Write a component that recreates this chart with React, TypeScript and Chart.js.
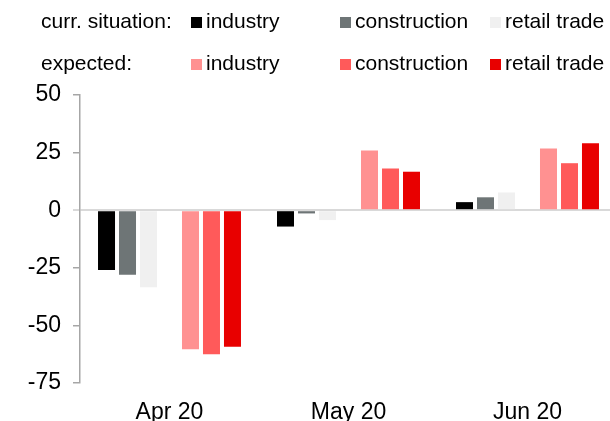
import React, { useEffect, useRef } from 'react';
import { Chart, registerables } from 'chart.js';

Chart.register(...registerables);

const categories = ['Apr 20', 'May 20', 'Jun 20'];
const currIndustry = [-26.0, -7.1, 3.5];
const currConstruction = [-28.0, -1.4, 5.6];
const currRetail = [-33.4, -4.3, 7.7];
const expIndustry = [-60.3, 25.9, 26.8];
const expConstruction = [-62.5, 18.1, 20.4];
const expRetail = [-59.3, 16.7, 29.1];
const gapSeries = [null, null, null];
const yTicks = [-75, -50, -25, 0, 25, 50];

const legendRowTitles = ['curr. situation:', 'expected:'];
const legendSeriesNames = ['industry', 'construction', 'retail trade'];
const currColors = ['#000000', '#6e7576', '#f0f0f0'];
const expColors = ['#ff9191', '#ff5a5a', '#e80000'];

const FONT = '"Liberation Sans", Arial, sans-serif';

const legendPlugin = {
  id: 'customLegend',
  afterDraw(chart: any) {
    const ctx = chart.ctx;
    ctx.save();
    ctx.font = `21px ${FONT}`;
    ctx.textBaseline = 'alphabetic';
    ctx.textAlign = 'left';
    const rows = [
      { title: legendRowTitles[0], colors: currColors, baseline: 28, boxTop: 17 },
      { title: legendRowTitles[1], colors: expColors, baseline: 70, boxTop: 59 },
    ];
    const boxX = [191, 340, 490];
    rows.forEach((row) => {
      ctx.fillStyle = '#000';
      ctx.fillText(row.title, 41, row.baseline);
      legendSeriesNames.forEach((name, i) => {
        ctx.fillStyle = row.colors[i];
        ctx.fillRect(boxX[i], row.boxTop, 11, 11);
        ctx.fillStyle = '#000';
        ctx.fillText(name, boxX[i] + 15, row.baseline);
      });
    });
    ctx.restore();
  },
};

export default function App() {
  const ref = useRef<HTMLCanvasElement | null>(null);

  useEffect(() => {
    if (!ref.current) return;
    const mk = (label: string, data: any[], color: string) => ({
      label,
      data,
      backgroundColor: color,
      borderWidth: 0,
      barPercentage: 0.81,
      categoryPercentage: 0.821,
    });
    const chart = new Chart(ref.current, {
      type: 'bar',
      data: {
        labels: categories,
        datasets: [
          mk('curr. industry', currIndustry, currColors[0]),
          mk('curr. construction', currConstruction, currColors[1]),
          mk('curr. retail trade', currRetail, currColors[2]),
          mk('', gapSeries, 'transparent'),
          mk('exp. industry', expIndustry, expColors[0]),
          mk('exp. construction', expConstruction, expColors[1]),
          mk('exp. retail trade', expRetail, expColors[2]),
        ],
      },
      options: {
        animation: false,
        responsive: false,
        maintainAspectRatio: false,
        layout: { padding: { top: 95, left: 0, right: 3, bottom: 0 } },
        plugins: {
          legend: { display: false },
          tooltip: { enabled: false },
        },
        scales: {
          x: {
            grid: { display: false, drawTicks: false, tickLength: 0 },
            border: { display: false },
            ticks: {
              color: '#000',
              font: { family: FONT, size: 23 },
              padding: 16,
              maxRotation: 0,
            },
            afterFit: (scale: any) => {
              scale.height = 38;
            },
          },
          y: {
            min: -75,
            max: 50,
            afterBuildTicks: (scale: any) => {
              scale.ticks = yTicks.map((v) => ({ value: v }));
            },
            afterFit: (scale: any) => {
              scale.width = 80;
            },
            border: { display: true, color: '#a6a6a6', width: 1.5 },
            grid: {
              drawOnChartArea: true,
              drawTicks: true,
              tickLength: 7,
              color: (c: any) => (c.tick && c.tick.value === 0 ? '#d9d9d9' : 'rgba(0,0,0,0)'),
              tickColor: (c: any) => (c.tick && c.tick.value === 0 ? '#d9d9d9' : '#a6a6a6'),
              lineWidth: (c: any) => (c.tick && c.tick.value === 0 ? 2 : 1.5),
            },
            ticks: {
              color: '#000',
              font: { family: FONT, size: 23 },
              padding: 12,
            },
          },
        },
      },
      plugins: [legendPlugin],
    });
    return () => chart.destroy();
  }, []);

  return (
    <div
      style={{
        position: 'fixed',
        left: 0,
        top: 0,
        width: 610,
        height: 421,
        overflow: 'hidden',
        background: '#fff',
      }}
    >
      <canvas ref={ref} width={620} height={421} style={{ display: 'block' }} />
    </div>
  );
}
